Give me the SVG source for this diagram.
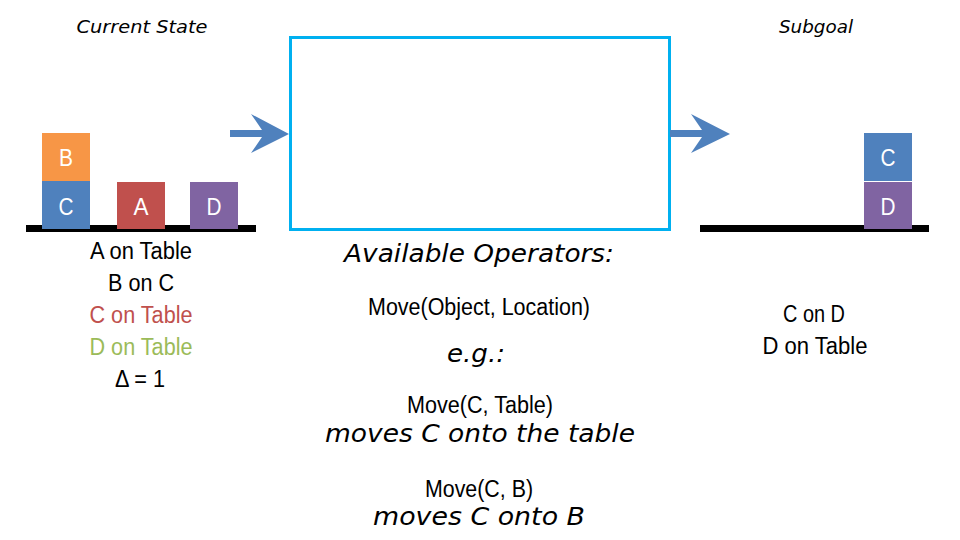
<svg xmlns="http://www.w3.org/2000/svg" width="960" height="540" viewBox="0 0 960 540">
<style>
.hand{font-family:"DejaVu Sans","Open Sans",sans-serif;font-style:italic;fill:#000;text-anchor:middle}
.txt{font-family:"Liberation Sans",Arial,sans-serif;font-size:23.5px;fill:#000;text-anchor:middle}
.blk{font-family:"Liberation Sans",Arial,sans-serif;font-size:24px;fill:#fff;text-anchor:middle}
.table{fill:#000}
.arrow{fill:#4F81BD}
</style>
<rect width="960" height="540" fill="#fff"/>
<text class="hand" x="142" y="33" font-size="17" textLength="131" lengthAdjust="spacingAndGlyphs">Current State</text>
<text class="hand" x="816" y="33" font-size="17" textLength="74" lengthAdjust="spacingAndGlyphs">Subgoal</text>
<rect class="table" x="26" y="225" width="230" height="7"/>
<rect class="table" x="700" y="225" width="229" height="7"/>
<g id="blockB"><rect x="42" y="133" width="48" height="48" fill="#F79646"/><text class="blk" x="66" y="166" textLength="14" lengthAdjust="spacingAndGlyphs">B</text></g>
<g id="blockC"><rect x="42" y="181" width="48" height="48" fill="#4F81BD"/><text class="blk" x="66" y="215" textLength="15" lengthAdjust="spacingAndGlyphs">C</text></g>
<g id="blockA"><rect x="117" y="182" width="48" height="47" fill="#C0504D"/><text class="blk" x="141" y="215" textLength="15" lengthAdjust="spacingAndGlyphs">A</text></g>
<g id="blockD"><rect x="190" y="182" width="48" height="47" fill="#8064A2"/><text class="blk" x="214" y="215" textLength="15" lengthAdjust="spacingAndGlyphs">D</text></g>
<g id="goalC"><rect x="864" y="133" width="48" height="48" fill="#4F81BD"/><text class="blk" x="888" y="166" textLength="15" lengthAdjust="spacingAndGlyphs">C</text></g>
<g id="goalD"><rect x="864" y="182" width="48" height="47" fill="#8064A2"/><text class="blk" x="888" y="215" textLength="15" lengthAdjust="spacingAndGlyphs">D</text></g>
<g id="operatorBox"><rect x="290.5" y="37.5" width="379" height="192" fill="none" stroke="#00B0F0" stroke-width="3"/></g>
<g id="connectors">
<path class="arrow" d="M230,130 H262 L251,114 L289,134 L251,153 L262,137 H230 Z"/>
<path class="arrow" d="M670,130 H702 L691,114 L730,134 L691,153 L702,137 H670 Z"/>
</g>
<g id="currentText">
<text class="txt" x="141" y="259" textLength="102" lengthAdjust="spacingAndGlyphs">A on Table</text>
<text class="txt" x="141" y="291" textLength="66" lengthAdjust="spacingAndGlyphs">B on C</text>
<text class="txt" x="141" y="323" style="fill:#C0504D" textLength="103" lengthAdjust="spacingAndGlyphs">C on Table</text>
<text class="txt" x="141" y="355" style="fill:#9BBB59" textLength="103" lengthAdjust="spacingAndGlyphs">D on Table</text>
<text class="txt" x="140" y="387" textLength="50" lengthAdjust="spacingAndGlyphs">Δ = 1</text>
</g>
<g id="operators">
<text class="hand" x="479" y="262" font-size="25" textLength="270" lengthAdjust="spacingAndGlyphs">Available Operators:</text>
<text class="txt" x="479" y="315" textLength="222" lengthAdjust="spacingAndGlyphs">Move(Object, Location)</text>
<text class="hand" x="476" y="362" font-size="25" textLength="58" lengthAdjust="spacingAndGlyphs">e.g.:</text>
<text class="txt" x="480" y="413" textLength="146" lengthAdjust="spacingAndGlyphs">Move(C, Table)</text>
<text class="hand" x="480" y="442" font-size="25" textLength="310" lengthAdjust="spacingAndGlyphs">moves C onto the table</text>
<text class="txt" x="479" y="497" textLength="108" lengthAdjust="spacingAndGlyphs">Move(C, B)</text>
<text class="hand" x="479" y="525" font-size="25" textLength="212" lengthAdjust="spacingAndGlyphs">moves C onto B</text>
</g>
<g id="subgoalText">
<text class="txt" x="814" y="322" textLength="62" lengthAdjust="spacingAndGlyphs">C on D</text>
<text class="txt" x="815" y="354" textLength="105" lengthAdjust="spacingAndGlyphs">D on Table</text>
</g>
</svg>
